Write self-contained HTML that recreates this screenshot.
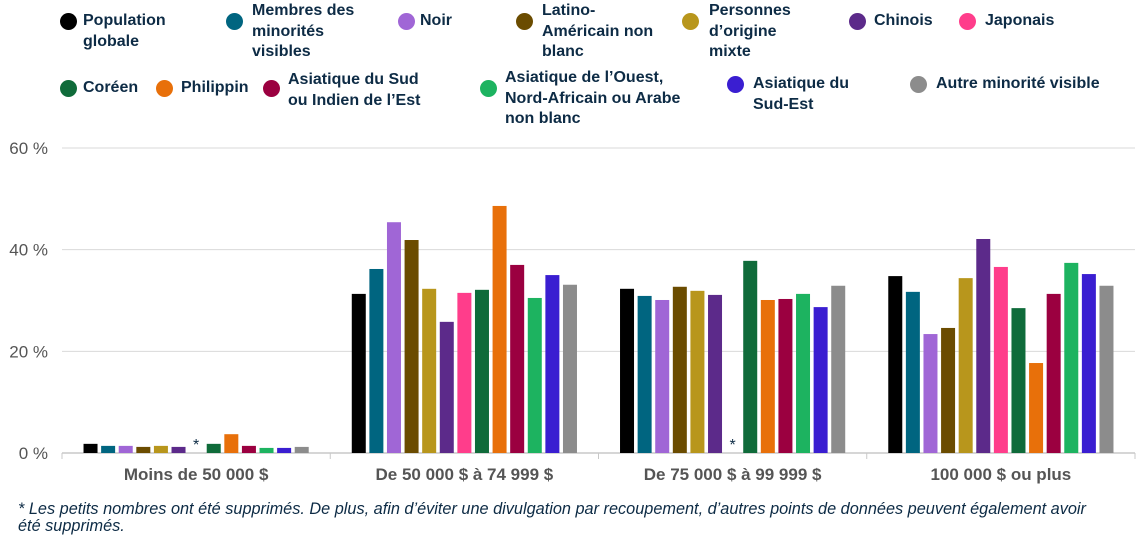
<!DOCTYPE html>
<html><head><meta charset="utf-8"><style>
body{margin:0;width:1140px;height:544px;background:#fff;font-family:"Liberation Sans",sans-serif;overflow:hidden;position:relative}
.lg{position:absolute;font-weight:bold;font-size:16px;line-height:20.5px;color:#0d2b45}
.mk{position:absolute;width:17px;height:17px;border-radius:50%}
#foot{position:absolute;left:18px;top:501px;font-style:italic;font-size:16.3px;line-height:17px;color:#0d2b45;width:1095px}
</style></head><body>
<div id="legend"></div>
<svg id="chart" width="1140" height="544" style="position:absolute;left:0;top:0"></svg>
<div id="foot">* Les petits nombres ont été supprimés. De plus, afin d’éviter une divulgation par recoupement, d’autres points de données peuvent également avoir été supprimés.</div>
<script>
const categories=["Moins de 50 000 $","De 50 000 $ à 74 999 $","De 75 000 $ à 99 999 $","100 000 $ ou plus"];
const seriesNames=["Population globale","Membres des minorités visibles","Noir","Latino-Américain non blanc","Personnes d’origine mixte","Chinois","Japonais","Coréen","Philippin","Asiatique du Sud ou Indien de l’Est","Asiatique de l’Ouest, Nord-Africain ou Arabe non blanc","Asiatique du Sud-Est","Autre minorité visible"];
const colors=["#000000","#006580","#a066d6","#6b4c00","#b8961c","#5c2a8a","#ff3d8b","#0f6b3a","#e8700a","#9b0040","#1db360","#3a1ed1","#8c8c8c"];
const s0=[1.8,1.4,1.4,1.2,1.4,1.2,null,1.8,3.7,1.4,1.0,1.0,1.2];
const s1=[31.3,36.2,45.4,41.9,32.3,25.8,31.5,32.1,48.6,37.0,30.5,35.0,33.1];
const s2=[32.3,30.9,30.1,32.7,31.9,31.1,null,37.8,30.1,30.3,31.3,28.7,32.9];
const s3=[34.8,31.7,23.4,24.6,34.4,42.1,36.6,28.5,17.7,31.3,37.4,35.2,32.9];
const groups=[s0,s1,s2,s3];
const yTicks=[0,20,40,60];
const yTickLabels=["0 %","20 %","40 %","60 %"];
const legPos=[[68,21,83,11],[234,21,252,1],[406,21,420,11],[524,21,542,1],[690,21,709,1],[857,21,874,11],[967,21,985,11],
[68,88,83,78],[164,88,181,78],[271,88,288,70],[488,88,505,68],[735,84,753,74],[918,84,936,74]];
const legText=["Population<br>globale","Membres des<br>minorités<br>visibles","Noir","Latino-<br>Américain non<br>blanc","Personnes<br>d’origine<br>mixte","Chinois","Japonais","Coréen","Philippin","Asiatique du Sud<br>ou Indien de l’Est","Asiatique de l’Ouest,<br>Nord-Africain ou Arabe<br>non blanc","Asiatique du<br>Sud-Est","Autre minorité visible"];
const L=document.getElementById('legend');
seriesNames.forEach((n,i)=>{
 const p=legPos[i];
 const m=document.createElement('div');m.className='mk';
 
 
 m.style.left=(p[0]-8.5)+'px';m.style.top=(p[1]-8.5)+'px';m.style.background=colors[i];L.appendChild(m);
 const t=document.createElement('div');t.className='lg';
 
 
 t.style.left=p[2]+'px';t.style.top=p[3]+'px';t.innerHTML=legText[i];L.appendChild(t);
});
const S=document.getElementById('chart'),NS='http://www.w3.org/2000/svg';
function el(tag,a,txt){const e=document.createElementNS(NS,tag);for(const k in a)e.setAttribute(k,a[k]);if(txt!=null)e.textContent=txt;S.appendChild(e);return e;}
const x0=62,x1=1135,y0=453,yTop=148;
const yS=v=>y0-(v/60)*(y0-yTop);
const gw=(x1-x0)/categories.length;
const bw=14,step=17.6;
const barX=(g,i)=>x0+gw*g+gw/2+(i-6)*step-bw/2;
yTicks.forEach((t,k)=>{
 if(t>0){const g=el('line',{x1:x0,x2:x1,y1:yS(t),y2:yS(t),stroke:'#d9d9d9','stroke-width':1});}
 const l=el('text',{x:48,y:yS(t)+6,'text-anchor':'end','font-size':17,fill:'#555','font-family':'Liberation Sans'},yTickLabels[k]);
 
});
const ax=el('line',{x1:x0,x2:x1,y1:y0,y2:y0,stroke:'#c8c8c8','stroke-width':1.5});

for(let g=0;g<=categories.length;g++){const t=el('line',{x1:x0+gw*g,x2:x0+gw*g,y1:y0,y2:y0+6,stroke:'#c8c8c8'});}
groups.forEach((vals,g)=>{
 vals.forEach((v,i)=>{
  if(v==null){const a=el('text',{x:barX(g,i)+bw/2,y:y0-3,'text-anchor':'middle','font-size':16,fill:'#0d2b45','font-family':'Liberation Sans'},'*');return;}
  const r=el('rect',{x:barX(g,i),y:yS(v),width:bw,height:y0-yS(v),fill:colors[i]});
  
 });
 const c=el('text',{x:x0+gw*g+gw/2,y:480,'text-anchor':'middle','font-size':17,'font-weight':'bold',fill:'#555','font-family':'Liberation Sans'},categories[g]);
 
});
</script>
</body></html>
